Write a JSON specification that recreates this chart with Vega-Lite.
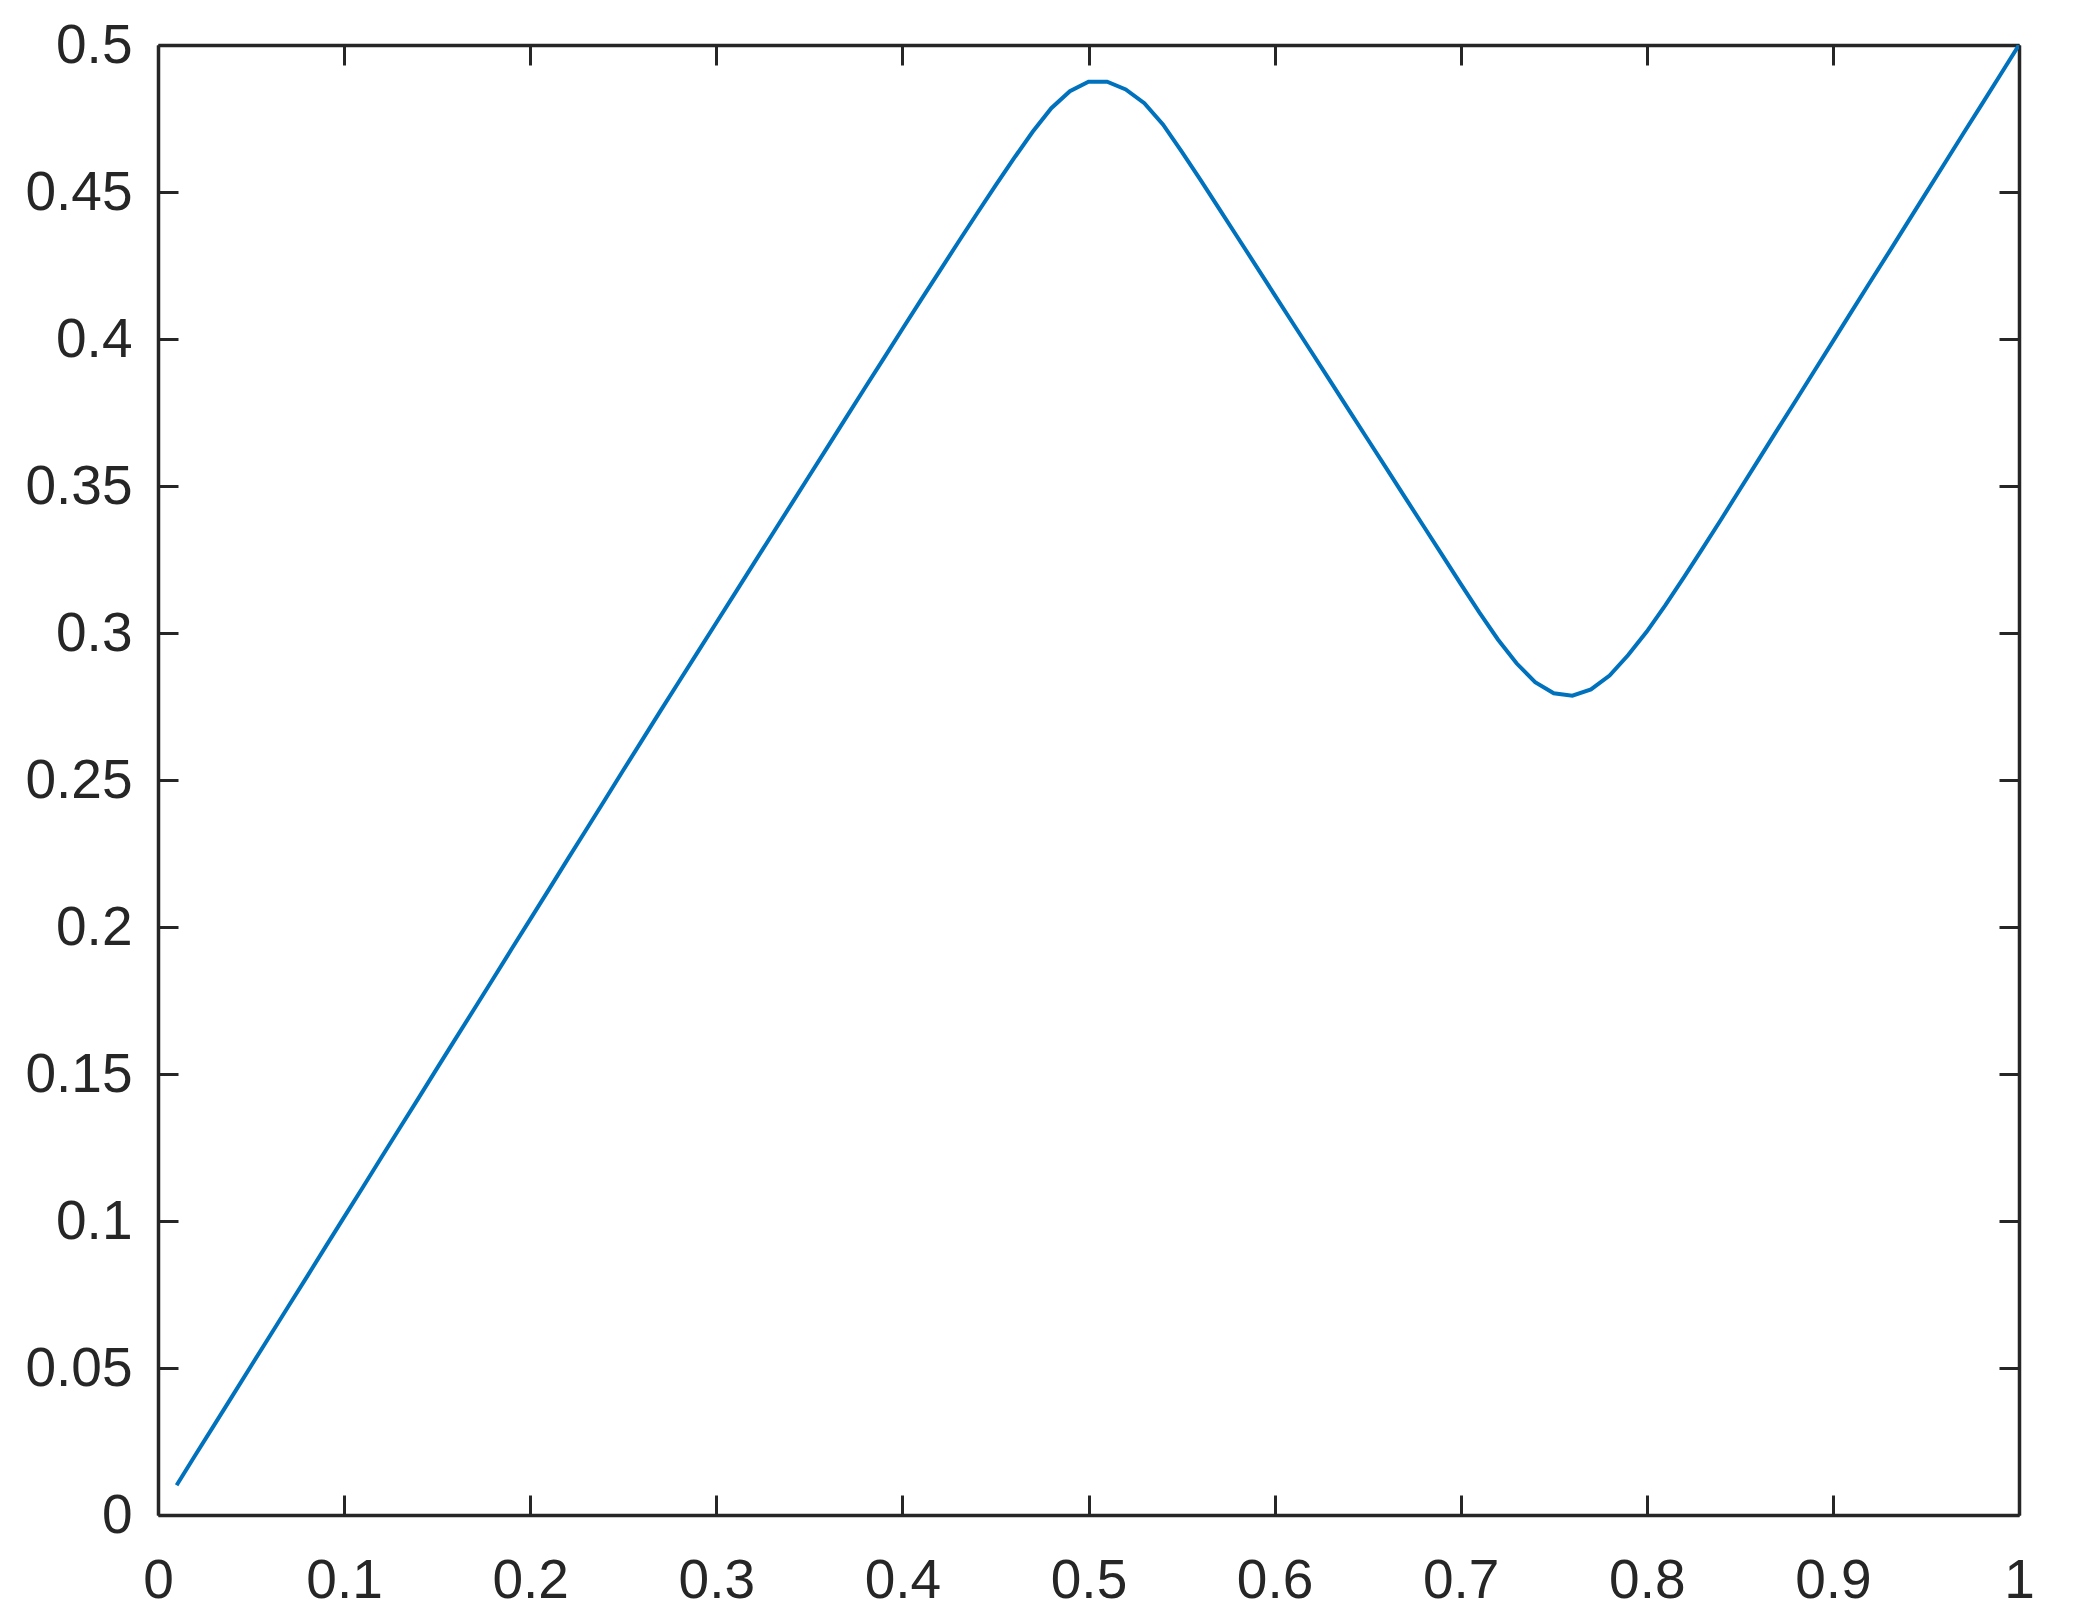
{
  "$schema": "https://vega.github.io/schema/vega-lite/v6.json",
  "width": 1861,
  "height": 1470,
  "autosize": {"type": "none"},
  "padding": {"left": 158, "top": 45, "right": 54, "bottom": 107},
  "background": "white",
  "config": {
    "view": {"stroke": null},
    "axis": {
      "domainColor": "#262626",
      "domainWidth": 3.5,
      "tickColor": "#262626",
      "tickWidth": 3,
      "tickSize": -20,
      "labelFont": "Liberation Sans",
      "labelFontSize": 55,
      "labelColor": "#262626",
      "grid": false,
      "title": null
    }
  },
  "data": {"values": [
    {"x": 0.01, "y": 0.0101}, {"x": 0.02, "y": 0.0203}, {"x": 0.03, "y": 0.0304}, {"x": 0.04, "y": 0.0405},
    {"x": 0.05, "y": 0.0507}, {"x": 0.06, "y": 0.0608}, {"x": 0.07, "y": 0.0709}, {"x": 0.08, "y": 0.081},
    {"x": 0.09, "y": 0.0912}, {"x": 0.10, "y": 0.1013}, {"x": 0.11, "y": 0.1114}, {"x": 0.12, "y": 0.1216},
    {"x": 0.13, "y": 0.1317}, {"x": 0.14, "y": 0.1418}, {"x": 0.15, "y": 0.152}, {"x": 0.16, "y": 0.1621},
    {"x": 0.17, "y": 0.1722}, {"x": 0.18, "y": 0.1823}, {"x": 0.19, "y": 0.1925}, {"x": 0.20, "y": 0.2026},
    {"x": 0.21, "y": 0.2127}, {"x": 0.22, "y": 0.2229}, {"x": 0.23, "y": 0.233}, {"x": 0.24, "y": 0.2431},
    {"x": 0.25, "y": 0.2533}, {"x": 0.26, "y": 0.2634}, {"x": 0.27, "y": 0.2735}, {"x": 0.28, "y": 0.2835},
    {"x": 0.29, "y": 0.2935}, {"x": 0.30, "y": 0.3035}, {"x": 0.31, "y": 0.3135}, {"x": 0.32, "y": 0.3235},
    {"x": 0.33, "y": 0.3335}, {"x": 0.34, "y": 0.3435}, {"x": 0.35, "y": 0.3535}, {"x": 0.36, "y": 0.3635},
    {"x": 0.37, "y": 0.3735}, {"x": 0.38, "y": 0.3835}, {"x": 0.39, "y": 0.3934}, {"x": 0.40, "y": 0.4034},
    {"x": 0.41, "y": 0.4133}, {"x": 0.42, "y": 0.4231}, {"x": 0.43, "y": 0.4329}, {"x": 0.44, "y": 0.4426},
    {"x": 0.45, "y": 0.4522}, {"x": 0.46, "y": 0.4615}, {"x": 0.47, "y": 0.4705}, {"x": 0.48, "y": 0.4785},
    {"x": 0.49, "y": 0.4843}, {"x": 0.50, "y": 0.4875}, {"x": 0.51, "y": 0.4875}, {"x": 0.52, "y": 0.4849},
    {"x": 0.53, "y": 0.4802}, {"x": 0.54, "y": 0.473}, {"x": 0.55, "y": 0.4638}, {"x": 0.56, "y": 0.4543},
    {"x": 0.57, "y": 0.4445}, {"x": 0.58, "y": 0.4347}, {"x": 0.59, "y": 0.4249}, {"x": 0.60, "y": 0.415},
    {"x": 0.61, "y": 0.4052}, {"x": 0.62, "y": 0.3954}, {"x": 0.63, "y": 0.3856}, {"x": 0.64, "y": 0.3757},
    {"x": 0.65, "y": 0.3659}, {"x": 0.66, "y": 0.3561}, {"x": 0.67, "y": 0.3462}, {"x": 0.68, "y": 0.3364},
    {"x": 0.69, "y": 0.3266}, {"x": 0.70, "y": 0.3167}, {"x": 0.71, "y": 0.307}, {"x": 0.72, "y": 0.2978},
    {"x": 0.73, "y": 0.2897}, {"x": 0.74, "y": 0.2833}, {"x": 0.75, "y": 0.2795}, {"x": 0.76, "y": 0.2787},
    {"x": 0.77, "y": 0.2808}, {"x": 0.78, "y": 0.2855}, {"x": 0.79, "y": 0.2925}, {"x": 0.80, "y": 0.3005},
    {"x": 0.81, "y": 0.3095}, {"x": 0.82, "y": 0.319}, {"x": 0.83, "y": 0.3288}, {"x": 0.84, "y": 0.3387},
    {"x": 0.85, "y": 0.3488}, {"x": 0.86, "y": 0.3589}, {"x": 0.87, "y": 0.369}, {"x": 0.88, "y": 0.379},
    {"x": 0.89, "y": 0.3891}, {"x": 0.90, "y": 0.3992}, {"x": 0.91, "y": 0.4093}, {"x": 0.92, "y": 0.4194},
    {"x": 0.93, "y": 0.4294}, {"x": 0.94, "y": 0.4395}, {"x": 0.95, "y": 0.4496}, {"x": 0.96, "y": 0.4597},
    {"x": 0.97, "y": 0.4698}, {"x": 0.98, "y": 0.4798}, {"x": 0.99, "y": 0.4899}, {"x": 1.00, "y": 0.5}
  ]},
  "layer": [
    {
      "mark": {"type": "line", "color": "#0072BD", "strokeWidth": 4, "clip": true},
      "encoding": {
        "x": {"field": "x", "type": "quantitative",
              "scale": {"domain": [0, 1], "nice": false, "zero": false},
              "axis": {"orient": "bottom", "values": [0, 0.1, 0.2, 0.3, 0.4, 0.5, 0.6, 0.7, 0.8, 0.9, 1], "format": "~g", "labelPadding": 59, "labelFlush": false}},
        "y": {"field": "y", "type": "quantitative",
              "scale": {"domain": [0, 0.5], "nice": false, "zero": false},
              "axis": {"orient": "left", "values": [0, 0.05, 0.1, 0.15, 0.2, 0.25, 0.3, 0.35, 0.4, 0.45, 0.5], "format": "~g", "labelPadding": 46, "labelFlush": false}}
      }
    },
    {
      "mark": {"type": "line", "strokeOpacity": 0},
      "encoding": {
        "x": {"field": "x", "type": "quantitative",
              "axis": {"orient": "top", "values": [0, 0.1, 0.2, 0.3, 0.4, 0.5, 0.6, 0.7, 0.8, 0.9, 1], "labels": false}},
        "y": {"field": "y", "type": "quantitative",
              "axis": {"orient": "right", "values": [0, 0.05, 0.1, 0.15, 0.2, 0.25, 0.3, 0.35, 0.4, 0.45, 0.5], "labels": false}}
      }
    }
  ],
  "resolve": {"axis": {"x": "independent", "y": "independent"}}
}
